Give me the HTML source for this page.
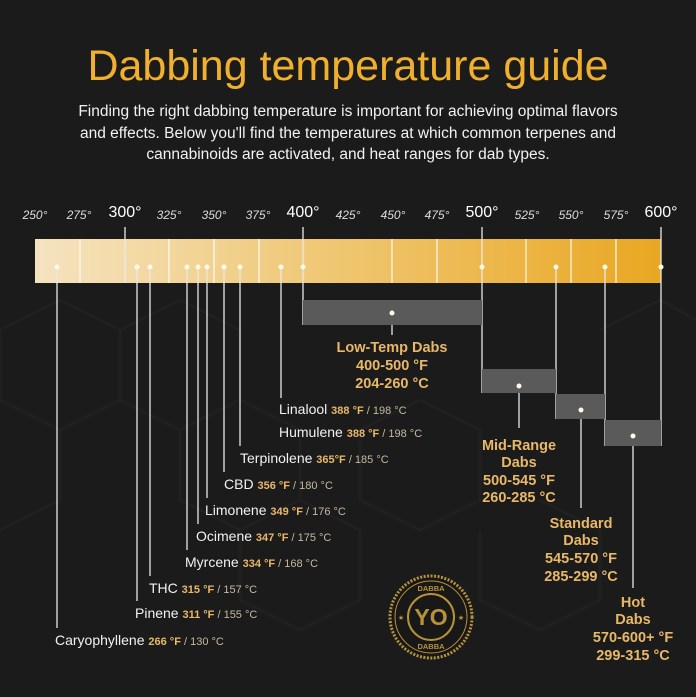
<!DOCTYPE html>
<html><head><meta charset="utf-8"><style>
body{margin:0;background:#1a1a1a;}
svg{display:block;font-family:"Liberation Sans",sans-serif;}
</style></head><body>
<svg width="696" height="697" viewBox="0 0 696 697" xmlns="http://www.w3.org/2000/svg">
<defs>
<linearGradient id="g" x1="0" x2="1"><stop offset="0" stop-color="#f5e3c0"/><stop offset="0.5" stop-color="#efc56e"/><stop offset="1" stop-color="#e9a722"/></linearGradient>
</defs>
<rect width="696" height="697" fill="#1b1b1b"/>
<g fill="none" stroke="#202020" stroke-width="3">
<path d="M0 330 L60 300 L120 330 L120 400 L60 430 L0 400Z M120 330 L180 300 L240 330 L240 400 L180 430 L120 400Z M240 400 L300 430 L300 500 L240 530 L180 500 L180 430 M420 400 L480 430 L480 500 L420 530 L360 500 L360 430Z M540 500 L600 530 L600 600 L540 630 L480 600 L480 530 M600 330 L660 300 L696 320 M60 430 L60 500 L0 530 M300 500 L360 530 L360 600 L300 630 L240 600 L240 530"/>
</g>
<text x="348" y="80" text-anchor="middle" font-size="43" fill="#f0b02e">Dabbing temperature guide</text>
<g font-size="15.5" fill="#f2f2f2" text-anchor="middle">
<text x="348" y="116">Finding the right dabbing temperature is important for achieving optimal flavors</text>
<text x="348" y="138">and effects. Below you'll find the temperatures at which common terpenes and</text>
<text x="348" y="159">cannabinoids are activated, and heat ranges for dab types.</text>
</g>
<g font-size="12" font-style="italic" fill="#dddddd" text-anchor="middle">
<text x="35" y="219">250°</text><text x="79" y="219">275°</text><text x="169" y="219">325°</text><text x="214" y="219">350°</text><text x="258" y="219">375°</text>
<text x="348" y="219">425°</text><text x="393" y="219">450°</text><text x="437" y="219">475°</text><text x="527" y="219">525°</text><text x="571" y="219">550°</text><text x="616" y="219">575°</text>
</g>
<g font-size="16" fill="#fff" text-anchor="middle">
<text x="125" y="217">300°</text><text x="303" y="217">400°</text><text x="482" y="217">500°</text><text x="661" y="217">600°</text>
</g>
<rect x="35" y="239" width="626" height="44" fill="url(#g)"/>
<g stroke="#fff" stroke-width="1.3" opacity="0.85">
<line x1="80" y1="239" x2="80" y2="283"/><line x1="169" y1="239" x2="169" y2="283"/><line x1="214" y1="239" x2="214" y2="283"/><line x1="259" y1="239" x2="259" y2="283"/>
<line x1="392" y1="239" x2="392" y2="283"/><line x1="437" y1="239" x2="437" y2="283"/><line x1="526" y1="239" x2="526" y2="283"/><line x1="571" y1="239" x2="571" y2="283"/><line x1="616" y1="239" x2="616" y2="283"/>
</g>
<g stroke="#e8e8e8" stroke-width="1.3">
<line x1="125" y1="227" x2="125" y2="283"/><line x1="303" y1="227" x2="303" y2="325"/><line x1="482" y1="227" x2="482" y2="393"/><line x1="661" y1="227" x2="661" y2="446"/>
<line x1="556" y1="267" x2="556" y2="419"/><line x1="605" y1="267" x2="605" y2="446"/>
<line x1="57" y1="267" x2="57" y2="628"/><line x1="137" y1="267" x2="137" y2="601"/><line x1="150" y1="267" x2="150" y2="576"/>
<line x1="187" y1="267" x2="187" y2="550"/><line x1="198" y1="267" x2="198" y2="524"/><line x1="207" y1="267" x2="207" y2="498"/>
<line x1="224" y1="267" x2="224" y2="472"/><line x1="240" y1="267" x2="240" y2="446"/><line x1="281" y1="267" x2="281" y2="398"/>
<line x1="392" y1="313" x2="392" y2="335"/><line x1="519" y1="386" x2="519" y2="428"/><line x1="581" y1="410" x2="581" y2="508"/><line x1="633" y1="436" x2="633" y2="588"/>
</g>
<g fill="#5a5a5a">
<rect x="303" y="300" width="179" height="25"/><rect x="482" y="369" width="74" height="24"/><rect x="556" y="394" width="49" height="25"/><rect x="605" y="420" width="56" height="26"/>
</g>
<g fill="#fffbe8">
<circle cx="57" cy="267" r="2.5"/><circle cx="137" cy="267" r="2.5"/><circle cx="150" cy="267" r="2.5"/><circle cx="187" cy="267" r="2.5"/><circle cx="198" cy="267" r="2.5"/><circle cx="207" cy="267" r="2.5"/><circle cx="224" cy="267" r="2.5"/><circle cx="240" cy="267" r="2.5"/><circle cx="281" cy="267" r="2.5"/><circle cx="303" cy="267" r="2.5"/><circle cx="482" cy="267" r="2.5"/><circle cx="556" cy="267" r="2.5"/><circle cx="605" cy="267" r="2.5"/><circle cx="661" cy="267" r="2.5"/>
<circle cx="392" cy="313" r="2.5"/><circle cx="519" cy="386" r="2.5"/><circle cx="581" cy="410" r="2.5"/><circle cx="633" cy="436" r="2.5"/>
</g>
<g font-size="14" fill="#f2f2f2">
<text x="279" y="414">Linalool <tspan font-size="11" font-weight="bold" fill="#e8b868">388 °F</tspan><tspan font-size="11" fill="#c8b8a0"> / 198 °C</tspan></text>
<text x="279" y="437">Humulene <tspan font-size="11" font-weight="bold" fill="#e8b868">388 °F</tspan><tspan font-size="11" fill="#c8b8a0"> / 198 °C</tspan></text>
<text x="240" y="463">Terpinolene <tspan font-size="11" font-weight="bold" fill="#e8b868">365°F</tspan><tspan font-size="11" fill="#c8b8a0"> / 185 °C</tspan></text>
<text x="224" y="489">CBD <tspan font-size="11" font-weight="bold" fill="#e8b868">356 °F</tspan><tspan font-size="11" fill="#c8b8a0"> / 180 °C</tspan></text>
<text x="205" y="515">Limonene <tspan font-size="11" font-weight="bold" fill="#e8b868">349 °F</tspan><tspan font-size="11" fill="#c8b8a0"> / 176 °C</tspan></text>
<text x="196" y="541">Ocimene <tspan font-size="11" font-weight="bold" fill="#e8b868">347 °F</tspan><tspan font-size="11" fill="#c8b8a0"> / 175 °C</tspan></text>
<text x="185" y="567">Myrcene <tspan font-size="11" font-weight="bold" fill="#e8b868">334 °F</tspan><tspan font-size="11" fill="#c8b8a0"> / 168 °C</tspan></text>
<text x="149" y="593">THC <tspan font-size="11" font-weight="bold" fill="#e8b868">315 °F</tspan><tspan font-size="11" fill="#c8b8a0"> / 157 °C</tspan></text>
<text x="135" y="618">Pinene <tspan font-size="11" font-weight="bold" fill="#e8b868">311 °F</tspan><tspan font-size="11" fill="#c8b8a0"> / 155 °C</tspan></text>
<text x="55" y="645">Caryophyllene <tspan font-size="11" font-weight="bold" fill="#e8b868">266 °F</tspan><tspan font-size="11" fill="#c8b8a0"> / 130 °C</tspan></text>
</g>
<g font-size="14.5" fill="#e8b868" text-anchor="middle" font-weight="bold">
<text x="392" y="352">Low-Temp Dabs</text><text x="392" y="370">400-500 °F</text><text x="392" y="388">204-260 °C</text>
<text x="519" y="450">Mid-Range</text><text x="519" y="467">Dabs</text><text x="519" y="485">500-545 °F</text><text x="519" y="502">260-285 °C</text>
<text x="581" y="528">Standard</text><text x="581" y="545">Dabs</text><text x="581" y="563">545-570 °F</text><text x="581" y="581">285-299 °C</text>
<text x="633" y="607">Hot</text><text x="633" y="624">Dabs</text><text x="633" y="642">570-600+ °F</text><text x="633" y="660">299-315 °C</text>
</g>
<g transform="translate(431,617)">
<circle r="41" fill="#181818" stroke="#b8923a" stroke-width="3" stroke-dasharray="2 1.5"/>
<circle r="36" fill="none" stroke="#b8923a" stroke-width="1"/>
<circle r="23" fill="none" stroke="#b8923a" stroke-width="2"/>
<text y="8" text-anchor="middle" font-size="23" font-weight="bold" fill="#b8923a">YO</text>
<text y="-26" text-anchor="middle" font-size="7.5" font-weight="bold" fill="#b8923a">DABBA</text>
<text y="32" text-anchor="middle" font-size="7.5" font-weight="bold" fill="#b8923a">DABBA</text>
<text x="-30" y="3" text-anchor="middle" font-size="7" fill="#b8923a">★</text>
<text x="30" y="3" text-anchor="middle" font-size="7" fill="#b8923a">★</text>
</g>
</svg>
</body></html>
